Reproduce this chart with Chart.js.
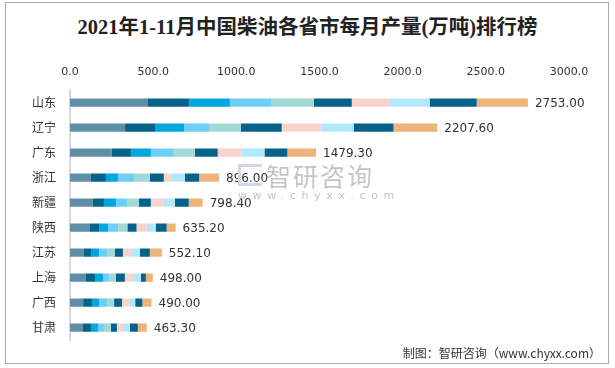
<!DOCTYPE html>
<html lang="zh">
<head>
<meta charset="UTF-8">
<title>2021年1-11月中国柴油各省市每月产量排行榜</title>
<script src="https://cdn.jsdelivr.net/npm/chart.js"></script>
<style>
  body { margin: 0; background: #fff; }
  #frame { position: absolute; left: 5px; top: 2px; width: 602px; height: 360px; border: 1px solid #aaa; }
  #title { position: absolute; left: 0; top: 10px; width: 615px; text-align: center; font: bold 20.5px "Liberation Serif", "Noto Sans CJK SC"; color: #222; }
  #wrap { position: absolute; left: 0; top: 0; width: 615px; height: 368px; }
  #wm { position: absolute; left: 238px; top: 161px; color: #c4c4c4; pointer-events: none; }
  #wm .big { font: 25px "Noto Sans CJK SC"; letter-spacing: 2px; margin-left: 28px; line-height: 28px; }
  #wm .small { font: 11px "DejaVu Sans"; letter-spacing: 5.6px; }
  #wm .logo { position: absolute; left: 0; top: 3px; width: 24px; height: 22px; border: 3px solid #cfd8e4; border-right: none; box-sizing: border-box; }
  #src { position: absolute; right: 14px; top: 344px; font: 12px "Noto Sans CJK SC"; color: #333; }
</style>
</head>
<body>
<div id="frame"></div>
<div id="title">2021年1-11月中国柴油各省市每月产量(万吨)排行榜</div>
<div id="wrap"><canvas id="c" width="615" height="368"></canvas></div>
<div id="wm"><div class="logo"></div><div class="big">智研咨询</div><div class="small">www.chyxx.com</div></div>
<div id="src">制图：智研咨询（www.chyxx.com）</div>
<script>
const provinces = ['山东', '辽宁', '广东', '浙江', '新疆', '陕西', '江苏', '上海', '广西', '甘肃'];
const totals = [2753.00, 2207.60, 1479.30, 896.00, 798.40, 635.20, 552.10, 498.00, 490.00, 463.30];
const months = ['1-2月', '3月', '4月', '5月', '6月', '7月', '8月', '9月', '10月', '11月'];

// monthly output per province, one array per month
const m12 = [469, 331, 252, 126, 138, 116, 84, 96, 79, 78];
const m3  = [246, 180, 114, 90, 66, 60, 42, 54, 54, 48];
const m4  = [246, 174, 120, 72, 72, 54, 48, 48, 42, 42];
const m5  = [252, 150, 138, 96, 66, 60, 48, 36, 48, 36];
const m6  = [253, 192, 126, 96, 72, 55, 48, 42, 42, 42];
const m7  = [228, 246, 138, 84, 72, 55, 48, 54, 48, 36];
const m8  = [228, 234, 144, 48, 72, 60, 48, 48, 43, 36];
const m9  = [240, 198, 137, 79, 72, 55, 54, 48, 36, 42];
const m10 = [283, 240, 138, 85, 84, 66, 60, 30, 43, 48];
const m11 = [308, 263, 172, 120, 84, 54, 72, 42, 55, 54];

const series = [m12, m3, m4, m5, m6, m7, m8, m9, m10, m11];
const colors = ['#5f8fa6', '#05628a', '#00a6de', '#6dcff6', '#a2d9d4', '#05628a', '#f9d3cc', '#b3e8fb', '#05628a', '#edb47a'];

const totalLabels = {
  id: 'totalLabels',
  afterDatasetsDraw(chart) {
    const ctx = chart.ctx;
    const meta = chart.getDatasetMeta(series.length - 1);
    ctx.save();
    ctx.font = '12px "DejaVu Sans"';
    ctx.fillStyle = '#333';
    ctx.textBaseline = 'middle';
    meta.data.forEach((bar, i) => {
      ctx.fillText(totals[i].toFixed(2), bar.x + 7, bar.y + 1);
    });
    ctx.restore();
  }
};

new Chart(document.getElementById('c'), {
  type: 'bar',
  data: {
    labels: provinces,
    datasets: series.map((d, i) => ({
      label: months[i],
      data: d,
      backgroundColor: colors[i],
      borderWidth: 0,
      barPercentage: 0.33,
      categoryPercentage: 1
    }))
  },
  options: {
    indexAxis: 'y',
    responsive: false,
    animation: false,
    layout: { padding: { left: 18, right: 46, top: 55, bottom: 28 } },
    plugins: { legend: { display: false }, tooltip: { enabled: false } },
    scales: {
      x: {
        position: 'top',
        stacked: true,
        min: 0,
        max: 3000,
        ticks: {
          stepSize: 500,
          color: '#333',
          font: { family: 'DejaVu Sans', size: 11 },
          padding: 11,
          maxRotation: 0,
          callback: v => v.toFixed(1)
        },
        grid: { display: false, drawTicks: false },
        border: { display: false }
      },
      y: {
        stacked: true,
        ticks: { color: '#333', font: { family: 'Noto Sans CJK SC', size: 12 }, padding: 14 },
        grid: { display: false, drawTicks: false },
        border: { display: true, color: '#d9d9d9', width: 2 }
      }
    }
  },
  plugins: [totalLabels]
});
</script>
</body>
</html>
